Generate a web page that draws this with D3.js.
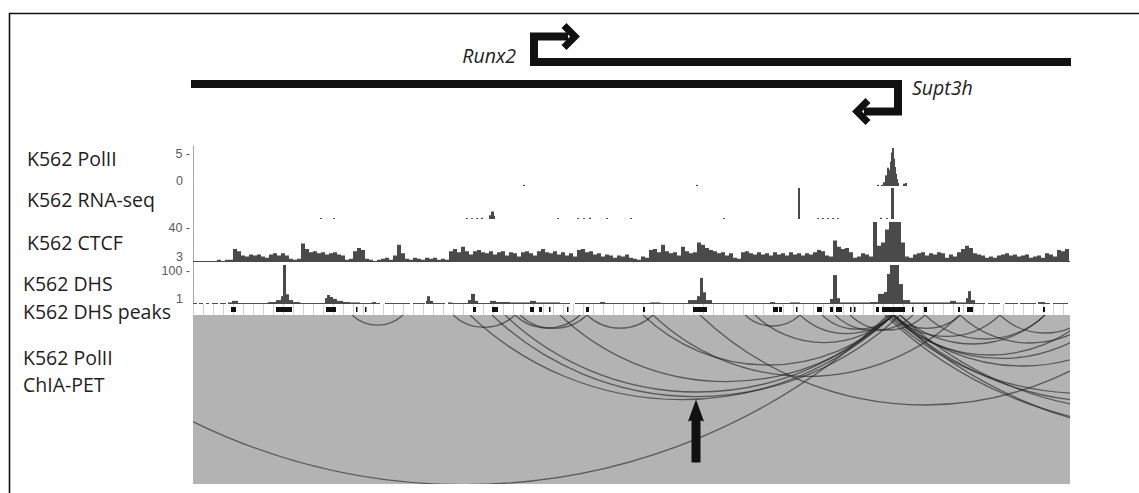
<!DOCTYPE html>
<html>
<head>
<meta charset="utf-8">
<script src="https://cdn.jsdelivr.net/npm/d3@7"></script>
<style>
  html, body { margin: 0; padding: 0; background: #fff; }
  svg { display: block; }
</style>
</head>
<body>
<svg id="chart" width="1139" height="493"></svg>
<script>
// Browser window, in kb from the left edge of the view
const viewKb = [0, 877];

// Gene models (kb); TSS is start for "+" and end for "-"
const geneNames   = ["Runx2", "Supt3h"];
const geneStarts  = [337, -2];
const geneEnds    = [878, 709];
const geneStrands = ["+", "-"];

// Track names down the left side
const trackNames = ["K562 PolII", "K562 RNA-seq", "K562 CTCF", "K562 DHS", "K562 DHS peaks", "K562 PolII", "ChIA-PET"];

// Data range labels per track: [max, min]
const polIIRange = [5, 0];
const ctcfRange  = [40, 3];
const dhsRange   = [100, 1];

// K562 PolII signal, bedGraph [start, end, value]
const polII = [
  [330,332,0.15],[503,505,0.15],[684,686,0.15],[688,690,0.15],[690,692,0.5],[692,694,1.4],
  [694,696,2.4],[696,697,2.1],[697,698,3.2],[698,699,4.4],[699,701,5.5],[701,702,3.6],
  [702,703,2.5],[703,704,1.6],[704,705,0.9],[705,706,0.4],[710,712,0.3],[712,714,0.4]
];

// K562 RNA-seq signal, bedGraph [start, end, value]
const rnaSeq = [
  [127,129,0.3],[140,142,0.3],[273,275,0.3],[278,280,0.3],[283,285,0.3],[288,290,0.4],
  [296,298,1.2],[298,301,2.4],[301,302,1.0],[364,366,0.3],[384,386,0.3],[390,392,0.3],
  [396,398,0.4],[413,415,0.3],[437,439,0.3],[530,532,0.3],[605,607,10],[624,626,0.3],
  [629,631,0.3],[634,636,0.3],[639,641,0.3],[644,646,0.3],[687,689,0.4],[693,695,0.3],
  [698,701,10]
];

// K562 CTCF signal, fixed step of 4 kb from 0
const ctcfStep = 4;
const ctcf = [
  4,4,4,4,4,4,5,4,5,5,
  15,13,9,8,10,9,10,8,7,10,
  11,9,11,9,6,5,6,20,15,12,
  13,11,12,10,11,12,10,9,5,6,
  13,16,14,6,5,4,5,6,7,5,
  9,19,11,6,5,7,6,5,7,6,
  7,5,6,5,13,15,12,17,13,10,
  13,14,12,11,13,10,12,13,9,12,
  11,8,12,13,11,9,13,15,12,11,
  13,10,12,9,11,8,14,15,12,13,
  10,11,8,10,9,7,9,8,10,7,
  6,5,8,7,14,15,12,19,13,11,
  12,9,17,13,11,12,21,19,16,14,
  13,11,12,9,11,7,6,12,13,11,
  10,12,10,11,9,12,10,11,9,12,
  10,11,9,11,10,12,14,13,9,8,
  23,17,15,16,12,7,8,11,10,8,
  43,18,21,33,43,43,41,21,8,7,
  10,11,12,9,11,10,12,11,7,10,
  8,12,15,18,16,11,10,9,7,8,
  7,9,10,11,9,10,8,9,10,7,
  8,9,7,11,10,8,14,13,15
];

// K562 DHS signal, bedGraph [start, end, value]
const dhs = [
  [0,4,2.5],[6,10,2.5],[13,16,2.5],[19,25,2.5],[27,33,2.5],[35,39,4],[39,45,8],[45,75,2.5],
  [75,83,5],[83,88,10],[88,90,20],[90,93,115],[93,96,25],[96,100,10],[100,107,5],[107,132,2.5],
  [132,134,15],[134,137,23],[137,140,18],[140,144,13],[144,150,8],[150,157,5],[157,167,4],
  [167,179,2.5],[179,183,5],[183,187,2.5],[192,207,2.5],[207,217,2.5],[220,232,2.5],[233,234,8],
  [234,237,20],[237,240,8],[240,252,2.5],[255,259,4],[259,275,2.5],[275,278,10],[278,282,26],
  [282,285,8],[285,297,2.5],[297,303,8],[303,317,5],[317,337,4],[337,343,8],[343,367,4],
  [367,377,2.5],[382,407,2.5],[407,412,5],[412,457,2.5],[457,467,4],[467,495,2.5],[495,504,10],
  [504,507,20],[507,510,67],[510,513,30],[513,519,10],[519,537,2.5],[537,577,2.5],[577,582,5],
  [582,597,2.5],[597,607,4],[607,637,2.5],[637,640,13],[640,644,74],[644,647,15],[647,677,4],
  [677,685,5],[685,691,26],[691,694,31],[694,697,77],[697,706,115],[706,710,51],[710,717,10],
  [717,757,4],[757,763,8],[763,773,4],[773,775,15],[775,778,33],[778,782,10],[782,792,2.5],
  [795,807,2.5],[812,825,2.5],[827,843,2.5],[845,852,5],[852,857,2.5],[860,875,2.5]
];

// K562 DHS peak calls [start, end]
const dhsPeaks = [
  [38,43],[83,99],[133,143],[163,164],[172,173],[280,283],[299,305],[337,341],[346,349],
  [356,357],[374,375],[393,396],[450,452],[500,514],[580,585],[586,589],[603,604],[624,629],
  [637,640],[643,649],[657,658],[661,662],[683,686],[689,712],[719,720],[731,734],[765,767],
  [774,780],[850,852]
];

// K562 PolII ChIA-PET interactions [anchor1, anchor2]
const chiaPet = [
  [-153,695],[159,210],[260,322],[277,700],[299,707],[322,387],[327,394],[394,460],
  [312,697],[367,700],[450,700],[460,767],[507,957],[552,607],[562,700],[607,700],
  [629,700],[642,720],[657,732],[700,767],[700,807],[707,852],[732,852],[767,907],
  [807,897],[697,897],[700,917],[702,957],[695,1087],[700,1137],[707,1187],[692,1257],
  [700,1307]
];
// interaction flagged with the arrow
const flaggedLoop = 4;

// ---------------------------------------------------------------
const svg = d3.select("#chart");
const x = d3.scaleLinear().domain(viewKb).range([193, 1070]);
const [x0, x1] = x.range();

const band = {
  polII: { top: 148, bottom: 186 },
  rna:   { top: 188, bottom: 219 },
  ctcf:  { top: 222, bottom: 262 },
  dhs:   { top: 265, bottom: 304 },
  peaks: { top: 304, bottom: 315 },
  chia:  { top: 315, bottom: 484 }
};
const signalFill = "#4a4a4a";

// frame
svg.append("path")
  .attr("d", "M9.5,493 V13.5 H1139")
  .attr("fill", "none").attr("stroke", "#111").attr("stroke-width", 1.6);

// clip paths per band
const defs = svg.append("defs");
Object.entries(band).forEach(([k, b]) => {
  defs.append("clipPath").attr("id", "clip-" + k)
    .append("rect").attr("x", x0).attr("y", b.top)
    .attr("width", x1 - x0).attr("height", b.bottom - b.top);
});

// ---- genes
const geneRows = [62, 84];
const geneArm = [-25.5, 27.5];
const sw = 8;
const genesG = svg.append("g");
geneNames.forEach((name, i) => {
  const plus = geneStrands[i] === "+";
  const dir = plus ? 1 : -1;
  const tss = plus ? x(geneStarts[i]) : x(geneEnds[i]);
  const tail = plus ? x(geneEnds[i]) : x(geneStarts[i]);
  const y = geneRows[i];
  const vx = tss + dir * sw / 2;
  const armY = y + geneArm[i];
  const armEnd = vx + dir * 34;
  const tip = vx + dir * 41;
  genesG.append("path")
    .attr("d", `M${tail},${y} H${vx} V${armY} H${armEnd}`)
    .attr("fill", "none").attr("stroke", "#111").attr("stroke-width", sw)
    .attr("stroke-linejoin", "miter");
  genesG.append("path")
    .attr("d", `M${tip - dir * 11},${armY - 11} L${tip},${armY} L${tip - dir * 11},${armY + 11}`)
    .attr("fill", "none").attr("stroke", "#111").attr("stroke-width", 7)
    .attr("stroke-linejoin", "miter");
  genesG.append("text")
    .attr("x", plus ? tss - 14 : tss + 10)
    .attr("y", plus ? y + 1 : y + 11)
    .attr("text-anchor", plus ? "end" : "start")
    .attr("font-family", "Open Sans").attr("font-style", "italic")
    .attr("font-size", 19.5).attr("fill", "#222")
    .text(name);
});

// ---- track labels
const labelPos = [[27,166],[27,207],[27,250],[23,291],[23,319],[23,365],[23,392]];
svg.append("g").selectAll("text").data(trackNames).join("text")
  .attr("x", (d, i) => labelPos[i][0]).attr("y", (d, i) => labelPos[i][1])
  .attr("font-family", "Open Sans").attr("font-size", 19.5).attr("fill", "#1e1e1e")
  .text(d => d);

// ---- left axis line
svg.append("line").attr("x1", x0 + 0.5).attr("x2", x0 + 0.5).attr("y1", 146).attr("y2", 304)
  .attr("stroke", "#aaa").attr("stroke-width", 1);

// range labels
function rangeLabels(range, b) {
  const g = svg.append("g").attr("font-family", "Liberation Sans").attr("font-size", 12.5).attr("fill", "#5a5a5a");
  g.append("text").attr("x", 190).attr("y", b.top + 10).attr("text-anchor", "end").text(range[0] + " -");
  g.append("text").attr("x", 183).attr("y", b.bottom - 1).attr("text-anchor", "end").text(range[1]);
}
rangeLabels(polIIRange, band.polII);
rangeLabels(ctcfRange, band.ctcf);
rangeLabels(dhsRange, band.dhs);

// ---- bedGraph tracks
function bedGraph(data, b, domain, key) {
  const y = d3.scaleLinear().domain(domain).range([b.bottom, b.top]);
  svg.append("g").attr("clip-path", `url(#clip-${key})`)
    .selectAll("rect").data(data).join("rect")
    .attr("x", d => x(d[0])).attr("width", d => Math.max(1, x(d[1]) - x(d[0])))
    .attr("y", d => y(d[2])).attr("height", d => b.bottom - y(d[2]))
    .attr("fill", signalFill);
}
bedGraph(polII, band.polII, [0, polIIRange[0]], "polII");
bedGraph(rnaSeq, band.rna, [0, 10], "rna");
bedGraph(dhs, band.dhs, [0, dhsRange[0]], "dhs");

// ---- CTCF wiggle
{
  const b = band.ctcf;
  const y = d3.scaleLinear().domain([ctcfRange[1], ctcfRange[0]]).range([b.bottom, b.top]);
  const pts = ctcf.map((v, i) => [i * ctcfStep, v]);
  pts.push([ctcf.length * ctcfStep, ctcf[ctcf.length - 1]]);
  const area = d3.area().curve(d3.curveStepAfter)
    .x(d => x(d[0])).y0(b.bottom).y1(d => y(d[1]));
  svg.append("path").attr("clip-path", "url(#clip-ctcf)")
    .attr("d", area(pts)).attr("fill", signalFill);
  svg.append("line").attr("x1", x0).attr("x2", x1).attr("y1", b.bottom - 0.5).attr("y2", b.bottom - 0.5)
    .attr("stroke", signalFill).attr("stroke-width", 1);
}

// ---- DHS peaks strip
{
  const b = band.peaks;
  svg.append("g").selectAll("line").data(d3.range(viewKb[0], viewKb[1] + 1, 10)).join("line")
    .attr("x1", d => x(d) + 0.5).attr("x2", d => x(d) + 0.5)
    .attr("y1", b.top).attr("y2", b.bottom)
    .attr("stroke", "#d2d2d2").attr("stroke-width", 1);
  svg.append("g").selectAll("rect").data(dhsPeaks).join("rect")
    .attr("x", d => x(d[0])).attr("width", d => Math.max(1.5, x(d[1]) - x(d[0])))
    .attr("y", b.top + 3).attr("height", 5)
    .attr("fill", "#111");
}

// ---- ChIA-PET arcs
{
  const b = band.chia;
  svg.append("rect").attr("x", x0).attr("y", b.top).attr("width", x1 - x0).attr("height", b.bottom - b.top)
    .attr("fill", "#b3b3b3");
  const depth = d3.scaleLinear().domain([0, 1000]).range([0, 200]);
  const arcPath = d => {
    const xa = x(Math.min(d[0], d[1])), xb = x(Math.max(d[0], d[1]));
    const a = (xb - xa) / 2, s = depth(Math.abs(d[1] - d[0]));
    const r = (a * a + s * s) / (2 * s);
    return `M${xa},${b.top} A${r},${r} 0 0 0 ${xb},${b.top}`;
  };
  svg.append("g").attr("clip-path", "url(#clip-chia)")
    .selectAll("path").data(chiaPet).join("path")
    .attr("d", arcPath).attr("fill", "none")
    .attr("stroke", "#222").attr("stroke-opacity", 0.62).attr("stroke-width", 1.3);

  // arrow marking one interaction
  const f = chiaPet[flaggedLoop];
  const ax = x((f[0] + f[1]) / 2);
  const tipY = b.top + depth(Math.abs(f[1] - f[0])) + 3;
  svg.append("path")
    .attr("d", `M${ax},${tipY} L${ax + 8},${tipY + 22} L${ax + 4.5},${tipY + 21} V${tipY + 63} H${ax - 4.5} V${tipY + 21} L${ax - 8},${tipY + 22} Z`)
    .attr("fill", "#111");
}
</script>
</body>
</html>
